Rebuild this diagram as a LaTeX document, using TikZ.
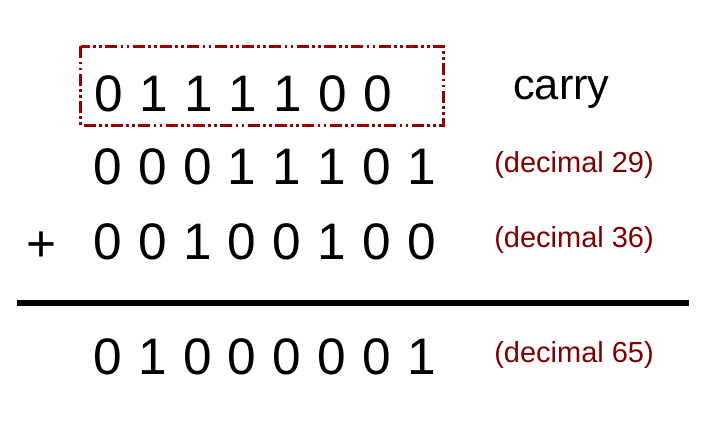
\documentclass[tikz,border=0pt]{standalone}
\usepackage{fontspec}
\setmainfont{Liberation Sans}
\definecolor{boxred}{RGB}{150,0,0}
\definecolor{decred}{RGB}{128,0,0}
\tikzset{
  bit/.style={anchor=base,inner sep=0pt,font=\fontsize{38.5}{40}\selectfont},
  dec/.style={anchor=base west,inner sep=0pt,text=decred,font=\fontsize{21.75}{24}\selectfont},
  carrybox/.style={draw=boxred,line width=2.4pt,dash pattern=on 9pt off 2.5pt on 2pt off 2.5pt on 2pt off 2.5pt}
}
\begin{document}
\begin{tikzpicture}[x=0.75pt,y=-0.75pt]
		\useasboundingbox (0,0) rectangle (704,427);
		% carry bits
		\foreach \b [count=\i from 0] in {0,1,1,1,1,0,0}
			\node[bit] (c\i) at (108.5+44.9*\i,112) {\b};
		\draw[carrybox] (80.5,46.5) rectangle (443.5,125.5);
		\node[anchor=base west,inner sep=0pt,font=\fontsize{32.5}{34}\selectfont] (carry) at (513,99.5) {carry};
		% first and second number
		\foreach \b [count=\i from 0] in {0,0,0,1,1,1,0,1}
			\node[bit] (a\i) at (107.5+44.9*\i,185) {\b};
		\node[dec] (deca) at (494,172.5) {(decimal 29)};
		\node[bit] (plus) at (41,262) {+};
		\foreach \b [count=\i from 0] in {0,0,1,0,0,1,0,0}
			\node[bit] (b\i) at (107.5+44.9*\i,260) {\b};
		\node[dec] (decb) at (494,247.5) {(decimal 36)};
		\draw[line width=4.5pt] (17,303) -- (689,303);
		% sum
		\foreach \b [count=\i from 0] in {0,1,0,0,0,0,0,1}
			\node[bit] (s\i) at (107.5+44.9*\i,375) {\b};
		\node[dec] (decs) at (494,362.5) {(decimal 65)};
\end{tikzpicture}
\end{document}
